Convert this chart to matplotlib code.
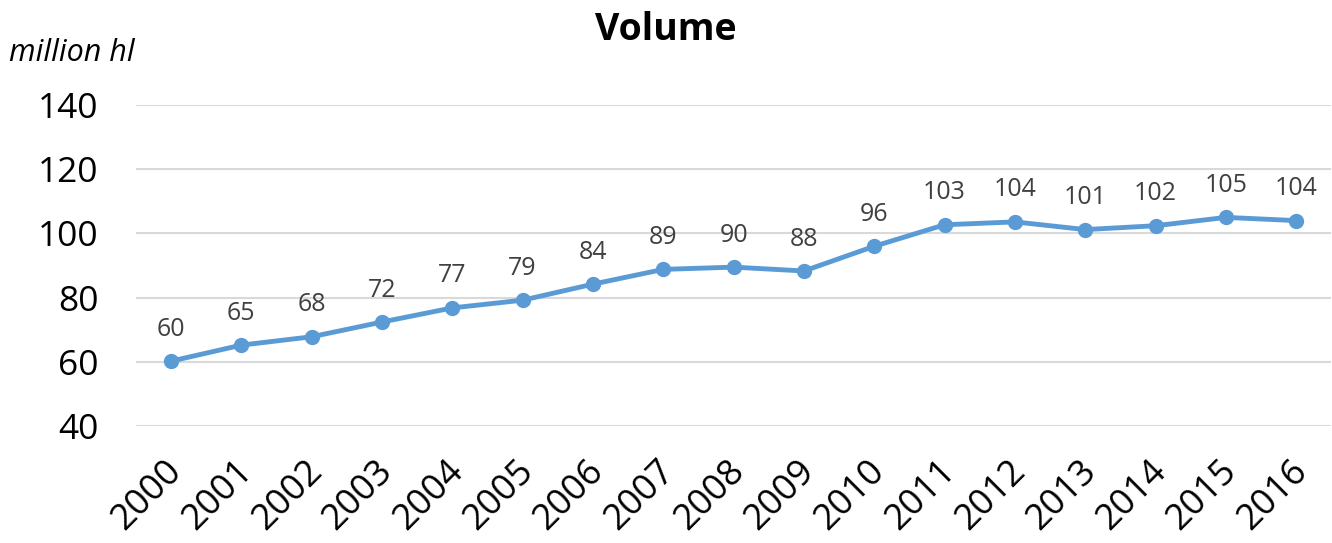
import matplotlib
matplotlib.use("Agg")
import matplotlib.pyplot as plt
import matplotlib.transforms as mtransforms

years = [str(y) for y in range(2000, 2017)]
volume = [60.2, 65.2, 67.8, 72.4, 76.8, 79.2, 84.2, 88.8, 89.5, 88.3, 96.0, 102.7, 103.6, 101.2, 102.4, 105.0, 104.0]
labels = ["60", "65", "68", "72", "77", "79", "84", "89", "90", "88", "96", "103", "104", "101", "102", "105", "104"]
yticks = [40, 60, 80, 100, 120, 140]

FONT = ["Open Sans", "DejaVu Sans"]
plt.rcParams['font.family'] = FONT

fig = plt.figure(figsize=(13.32, 5.43), dpi=100)
ax = fig.add_axes([0.102, 0.2155, 0.8975, 0.591])

x = list(range(len(years)))
ax.plot(x, volume, color="#5B9BD5", lw=3.5, marker="o", ms=10, zorder=3)
for xi, v, lab in zip(x, volume, labels):
    ax.annotate(lab, (xi, v), xytext=(0, 14), textcoords="offset points",
                ha="center", va="bottom", fontsize=18, color="#404040")

ax.set_xlim(-0.5, len(years) - 0.5)
ax.set_ylim(40, 140)
ax.set_yticks(yticks)
ax.set_yticklabels([str(t) for t in yticks], fontsize=25.5, color="#000000")
ax.set_xticks(x)
ax.set_xticklabels(years, fontsize=26, rotation=45, ha="right", rotation_mode="anchor", color="#000000")
ax.tick_params(axis="both", length=0)
ax.tick_params(axis="y", pad=27)
ax.tick_params(axis="x", pad=20)
offset = mtransforms.ScaledTranslation(-7 / 100, 0, fig.dpi_scale_trans)
for lbl in ax.get_xticklabels():
    lbl.set_transform(lbl.get_transform() + offset)
ax.grid(axis="y", color="#D9D9D9", lw=1.5)
ax.set_axisbelow(True)
for s in ax.spines.values():
    s.set_visible(False)

fig.text(0.5, 0.945, "Volume", ha="center", va="center", fontsize=27, fontweight="bold", color="#000000")
fig.text(0.007, 0.902, "million hl", ha="left", va="center", fontsize=22, style="italic", color="#000000")

fig.savefig("out.png", dpi=100)
